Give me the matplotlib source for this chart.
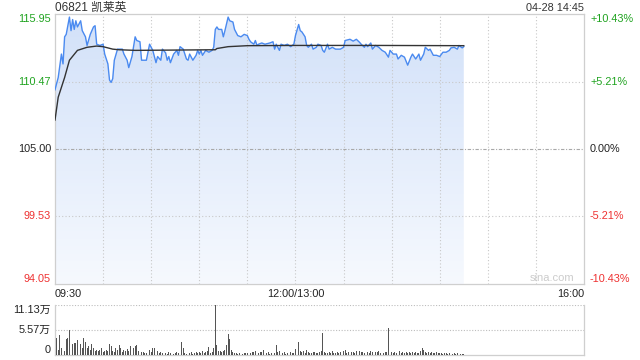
import numpy as np
import matplotlib
matplotlib.use("Agg")
import matplotlib.pyplot as plt
from matplotlib.colors import LinearSegmentedColormap
from matplotlib.patches import Polygon

plt.rcParams['font.family'] = ['Liberation Sans', 'Noto Sans CJK SC', 'DejaVu Sans']

# ---------------- data ----------------
title_code = "06821"
title_name = "凯莱英"
timestamp = "04-28 14:45"
prev_close = 105.00
price_ticks = [94.05, 99.53, 105.00, 110.47, 115.95]
price_labels = ["94.05", "99.53", "105.00", "110.47", "115.95"]
pct_labels = ["-10.43%", "-5.21%", "0.00%", "+5.21%", "+10.43%"]
x_tick_minutes = [0, 150, 330]
x_tick_labels = ["09:30", "12:00/13:00", "16:00"]
vol_ticks = [0, 5.57, 11.13]
vol_labels = ["0", "5.57万", "11.13万"]

# minutes since 09:30 (trading minutes, lunch removed) and price
price_t = [0, 2, 4, 5, 6, 7, 9, 10, 11, 12, 13, 14, 16, 17, 19, 20, 22, 24, 25, 26,
           28, 30, 31, 33, 34, 35, 36, 37, 39, 42, 43, 45, 46, 48, 50, 51, 53, 54, 57, 59,
           61, 63, 64, 66, 67, 69, 70, 71, 72, 74, 76, 77, 78, 80, 82, 83, 84, 86, 88, 89,
           90, 91, 92, 94, 96, 98, 99, 100, 101, 102, 104, 105, 106, 108, 109, 111, 112, 114, 116, 118,
           120, 121, 122, 124, 125, 126, 127, 129, 131, 134, 136, 137, 138, 140, 141, 143, 145, 147, 149, 150,
           152, 153, 154, 156, 157, 158, 160, 161, 163, 164, 166, 167, 168, 170, 171, 173, 175, 178, 180, 181,
           184, 186, 188, 190, 191, 193, 194, 195, 197, 198, 200, 202, 204, 206, 208, 209, 211, 213, 214, 216,
           218, 220, 222, 223, 225, 227, 228, 230, 231, 233, 234, 236, 238, 240, 242, 244, 246, 247, 249, 251,
           252, 254, 255]
price_v = [109.8, 110.8, 112.7, 111.9, 114.1, 114.3, 115.7, 114.6, 115.5, 114.7, 115.4, 114.9, 115.4, 114.6, 114.1, 113.4, 114.3, 114.9, 115.0, 113.5,
           113.4, 113.5, 112.7, 111.9, 110.6, 110.4, 110.7, 112.2, 113.1, 113.1, 112.7, 112.2, 111.6, 112.5, 114.1, 113.8, 113.7, 112.2, 112.2, 113.5,
           113.0, 112.0, 112.5, 112.2, 113.1, 112.8, 112.2, 112.5, 112.0, 112.7, 113.0, 112.6, 113.3, 113.1, 112.3, 112.2, 112.7, 112.2, 112.6, 113.0,
           112.7, 113.0, 112.6, 113.0, 112.85, 113.0, 113.25, 114.7, 114.9, 114.7, 114.7, 114.1, 114.6, 115.7, 115.4, 115.3, 114.7, 114.2, 114.1, 114.3,
           114.2, 113.9, 113.7, 113.5, 113.8, 113.4, 113.5, 113.6, 113.5, 113.6, 113.7, 113.1, 113.5, 113.0, 113.5, 113.4, 113.5, 113.3, 113.5, 114.2,
           115.1, 114.6, 114.5, 114.1, 113.4, 113.25, 113.5, 113.1, 113.25, 113.5, 113.4, 113.0, 112.85, 113.5, 113.1, 113.25, 113.1, 113.1, 113.25, 113.8,
           113.9, 113.75, 113.9, 113.65, 113.5, 113.25, 113.5, 113.3, 113.6, 113.1, 113.4, 113.25, 113.0, 112.85, 112.45, 113.0, 112.7, 112.7, 112.3, 112.6,
           112.45, 111.8, 112.45, 112.7, 112.3, 112.7, 112.2, 112.7, 113.25, 113.0, 113.1, 112.6, 112.6, 112.5, 112.85, 112.85, 113.0, 113.2, 113.25, 113.1,
           113.4, 113.2, 113.3]

avg_t = [0, 2, 6, 9, 14, 20, 26, 30, 36, 40, 50, 100, 101, 108, 120, 150, 200, 255]
avg_v = [107.35, 109.2, 110.8, 112.2, 113.0, 113.25, 113.35, 113.3, 113.1, 113.05, 113.0, 113.05, 113.15, 113.3, 113.38, 113.4, 113.4, 113.38]

# per-minute volume (万股), minutes 0..255
volume = [3.7, 3.7, 1.2, 4.4, 1.5, 4.1, 1.0, 3.5, 3.7, 5.6,
          6.7, 2.4, 2.6, 2.6, 3.3, 2.2, 2.4, 1.5, 3.7, 3.0,
          1.6, 1.9, 1.1, 2.4, 1.5, 0.8, 1.1, 0.9, 1.1, 1.5,
          0.7, 0.9, 1.1, 0.9, 2.4, 1.9, 0.9, 0.6, 1.5, 1.1,
          2.2, 1.5, 0.7, 1.1, 1.0, 1.3, 0.8, 1.9, 1.1, 1.5,
          1.9, 2.2, 0.9, 0.6, 0.7, 0.6, 0.4, 0.5, 0.8, 1.1,
          0.6, 1.5, 1.6, 1.7, 0.9, 0.5, 0.7, 0.4, 0.6, 0.5,
          0.3, 0.6, 0.4, 0.5, 0.3, 0.4, 0.6, 0.5, 1.6, 3.0,
          1.5, 0.4, 0.3, 0.5, 0.4, 0.6, 0.3, 0.5, 0.7, 0.4,
          0.6, 0.5, 0.8, 0.4, 0.6, 1.0, 1.7, 0.5, 0.6, 1.5,
          11.13, 2.2, 0.9, 0.9, 0.6, 0.9, 1.1, 2.2, 4.6, 3.5,
          1.1, 0.6, 0.5, 0.4, 0.3, 0.4, 0.5, 0.3, 0.4, 0.5,
          0.4, 0.6, 0.5, 0.7, 0.6, 1.0, 1.8, 0.5, 0.7, 0.6,
          1.1, 0.5, 0.4, 0.6, 0.3, 0.5, 0.7, 0.5, 2.2, 0.6,
          0.9, 0.5, 0.4, 0.6, 0.3, 0.4, 0.5, 0.6, 0.4, 0.5,
          1.3, 0.8, 3.0, 0.9, 0.6, 1.0, 0.5, 1.1, 0.6, 0.4,
          0.5, 0.6, 0.7, 0.4, 0.5, 0.6, 0.9, 5.0, 0.6, 0.5,
          0.4, 0.6, 0.5, 0.8, 0.4, 0.5, 0.7, 0.4, 0.6, 0.5,
          0.8, 1.1, 0.4, 0.6, 0.5, 0.7, 0.6, 0.4, 0.8, 1.8,
          0.9, 0.6, 0.7, 0.5, 0.9, 0.6, 0.4, 0.8, 0.6, 0.5,
          0.7, 0.6, 0.9, 0.5, 0.6, 0.4, 0.7, 0.6, 5.9, 0.8,
          0.6, 0.5, 0.7, 0.4, 0.6, 0.8, 0.5, 0.6, 0.4, 0.7,
          0.5, 0.6, 0.4, 0.7, 0.5, 0.6, 0.4, 0.5, 0.8, 1.6,
          1.1, 0.6, 0.5, 0.7, 0.4, 0.6, 0.5, 0.4, 0.6, 0.5,
          0.4, 0.5, 0.3, 0.5, 0.4, 0.3, 0.5, 0.4, 0.3, 0.4,
          0.3, 0.4, 0.3, 0.2, 0.3, 0.2]

# ---------------- style ----------------
GREEN = '#1fa31f'
RED = '#ee3030'
BLACK = '#222222'
BORDER = '#cfcfcf'
GRID = '#c8c8c8'
LINE = '#4a8af0'

W, H = 640, 360
fig = plt.figure(figsize=(6.4, 3.6), dpi=100)
L, R = 55, 584
main_top, main_bot = 14, 284
vol_top, vol_bot = 305, 355
ax = fig.add_axes([L / W, 1 - main_bot / H, (R - L) / W, (main_bot - main_top) / H])
axv = fig.add_axes([L / W, 1 - vol_bot / H, (R - L) / W, (vol_bot - vol_top) / H])

ymin, ymax = price_ticks[0], price_ticks[-1]
total = x_tick_minutes[-1]

# gradient fill under price
verts = list(zip(price_t, price_v)) + [(price_t[-1], ymin), (price_t[0], ymin)]
patch = Polygon(verts, closed=True, facecolor='none', edgecolor='none')
ax.add_patch(patch)
cmap = LinearSegmentedColormap.from_list('g', ['#f6f9fe', '#d2e1f9'])
grad = np.linspace(0, 1, 256).reshape(-1, 1)
im = ax.imshow(grad, extent=[0, price_t[-1], ymin, ymax], origin='lower', cmap=cmap,
               aspect='auto', zorder=1, interpolation='bilinear')
im.set_clip_path(patch)

ax.plot(price_t, price_v, color=LINE, lw=1.0, zorder=4)
ax.plot(avg_t, avg_v, color='#333333', lw=1.0, zorder=5)

ax.set_xlim(0, total)
ax.set_ylim(ymin, ymax)

# grid
for m in range(30, total, 30):
    ax.axvline(m, color=GRID, lw=0.8, ls=(0, (1, 2)), zorder=2)
for v in price_ticks[1:-1]:
    if v == prev_close:
        ax.axhline(v, color='#a8a8a8', lw=0.8, ls=(0, (3, 1.5, 1, 1.5)), zorder=2)
    else:
        ax.axhline(v, color=GRID, lw=0.8, ls=(0, (1, 2)), zorder=2)

for s in ax.spines.values():
    s.set_color(BORDER)
    s.set_linewidth(0.9)
ax.set_xticks([])
ax.set_yticks([])

# y labels
fs = 7.8
for v, lab, pl in zip(price_ticks, price_labels, pct_labels):
    col = GREEN if v > prev_close else (RED if v < prev_close else BLACK)
    va = 'center'
    if v == ymax:
        va = 'top'
    elif v == ymin:
        va = 'bottom'
    ax.text(-4 / (R - L), (v - ymin) / (ymax - ymin), lab, transform=ax.transAxes,
            ha='right', va=va, color=col, fontsize=fs)
    ax.text(1 + 6 / (R - L), (v - ymin) / (ymax - ymin), pl, transform=ax.transAxes,
            ha='left', va=va, color=col, fontsize=fs)

# x labels
for m, lab in zip(x_tick_minutes, x_tick_labels):
    ha = 'left' if m == 0 else ('right' if m == total else 'center')
    ax.text(m, -5 / (main_bot - main_top), lab, transform=ax.get_xaxis_transform(),
            ha=ha, va='top', color=BLACK, fontsize=fs)

# watermark
ax.text((574 - L) / (R - L), 1 - (278 - main_top) / (main_bot - main_top), "sina.com",
        transform=ax.transAxes, ha='right', va='center', color='#cccccc', fontsize=8, zorder=6)

# header
fig.text(L / W, 1 - 8 / H, f"{title_code} {title_name}", ha='left', va='center',
         color='#333333', fontsize=8.5)
fig.text(R / W, 1 - 8 / H, timestamp, ha='right', va='center', color='#333333', fontsize=7.8)

# volume
axv.bar(range(len(volume)), volume, width=0.55, color='#555555', zorder=3)
axv.set_xlim(0, total)
axv.set_ylim(0, vol_ticks[-1])
for v in vol_ticks[1:]:
    axv.axhline(v, color='#bdbdbd', lw=0.8, ls=(0, (1, 1.5)), zorder=1)
axv.spines['top'].set_visible(False)
for k in ['left', 'right', 'bottom']:
    axv.spines[k].set_color(BORDER)
    axv.spines[k].set_linewidth(0.9)
axv.set_xticks([])
axv.set_yticks([])
for v, lab in zip(vol_ticks, vol_labels):
    va = 'center'
    if v == vol_ticks[-1]:
        va = 'top'
    elif v == 0:
        va = 'bottom'
    axv.text(-4 / (R - L), v / vol_ticks[-1], lab, transform=axv.transAxes,
             ha='right', va=va, color=BLACK, fontsize=fs)

fig.savefig("out.png", dpi=100)
